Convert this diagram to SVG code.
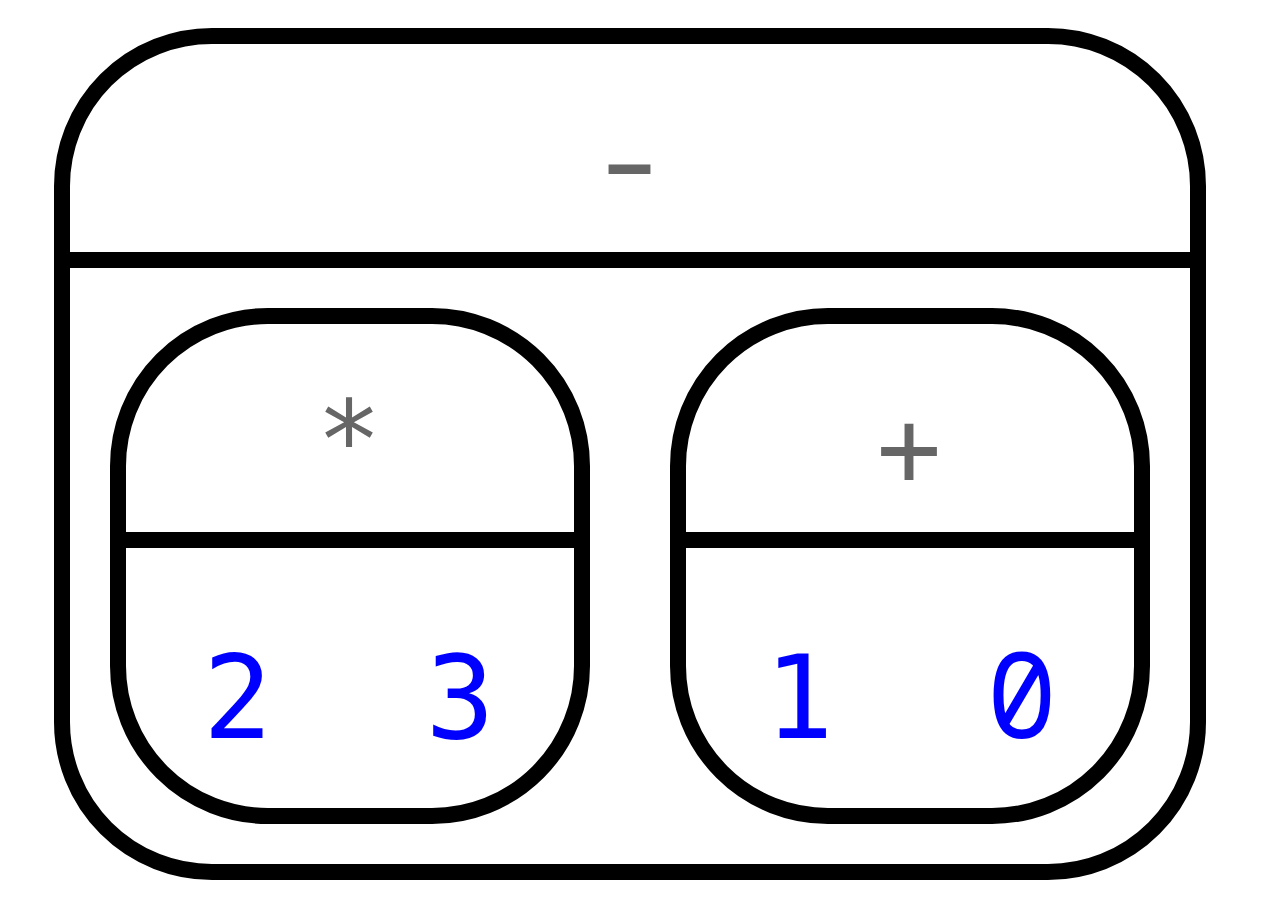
<svg xmlns="http://www.w3.org/2000/svg" width="1264" height="908" viewBox="0 0 1264 908">
<style>
.box{fill:none;stroke:#000;stroke-width:16}
.div{stroke:#000;stroke-width:16}
.op{font-family:"DejaVu Sans Mono",monospace;font-size:108px;fill:#666;text-anchor:middle}
.num{font-family:"DejaVu Sans Mono",monospace;font-size:115px;fill:#0000ff;text-anchor:middle}
.zero{font-family:"Noto Sans Mono","DejaVu Sans Mono",monospace;font-size:118px;fill:#0000ff;text-anchor:middle}
</style>
<rect width="1264" height="908" fill="#fff"/>
<g id="node-minus">
<rect class="box" x="62" y="36" width="1136" height="836" rx="150" ry="150"/>
<line class="div" x1="62" y1="260" x2="1198" y2="260"/>
<text class="op" style="font-size:120px" transform="translate(629.5,202) scale(1.37,1)">-</text>
</g>
<g id="node-times">
<rect class="box" x="118" y="316" width="464" height="500" rx="150" ry="150"/>
<line class="div" x1="118" y1="540" x2="582" y2="540"/>
<text class="op" x="349" y="478">*</text>
<text class="num" x="237.5" y="738">2</text>
<text class="num" x="460" y="738">3</text>
</g>
<g id="node-plus">
<rect class="box" x="678" y="316" width="464" height="500" rx="150" ry="150"/>
<line class="div" x1="678" y1="540" x2="1142" y2="540"/>
<text class="op" x="909" y="486">+</text>
<text class="num" x="799" y="738">1</text>
<text class="zero" x="1022" y="738">0</text>
</g>
<g id="connectors"></g>
</svg>
